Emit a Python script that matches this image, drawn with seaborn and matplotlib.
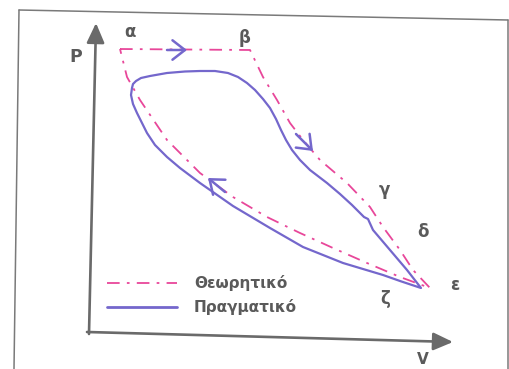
import numpy as np
import pandas as pd
import matplotlib
matplotlib.use("Agg")
import matplotlib.pyplot as plt
from matplotlib.lines import Line2D
from matplotlib.patches import FancyArrowPatch
import seaborn as sns

# ---- data (arbitrary V / P units) ----
theory_V = [32, 162, 175, 189, 202, 215, 232, 259, 282, 295, 312, 325, 342,
            312, 279, 245, 212, 179, 145, 112, 79, 52, 39, 32]
theory_P = [288, 287, 260, 237, 214, 197, 177, 154, 130, 110, 87, 67, 49,
            60, 74, 89, 104, 120, 140, 164, 197, 237, 260, 288]

real_V = [44, 45, 48, 53, 62, 79, 97, 112, 127, 140, 150, 159, 167, 175, 182,
          188, 193, 198, 204, 212, 222, 239, 252, 264, 274, 276, 280, 285, 302,
          319, 333,
          312, 295, 255, 215, 182, 145, 112, 92, 79, 67, 59, 54, 49, 45, 43, 44]
real_P = [249, 253, 256, 259, 261, 264, 265.5, 266, 266, 264, 260, 254, 247, 238,
          229, 218, 207, 197, 187, 177, 167, 154, 143, 132, 122, 120, 118, 107, 87,
          67, 49,
          56, 62, 74, 90, 109, 131, 154, 169, 180, 192, 204, 214, 224, 233, 242, 249]

# direction arrows (tail V, tail P, head V, head P)
arrow_tail_V = [79, 208, 137]
arrow_tail_P = [287, 203, 145]
arrow_head_V = [99, 225, 120]
arrow_head_P = [287, 186, 159]

point_labels = ["α", "β", "γ", "δ", "ε", "ζ"]
legend_labels = ["Θεωρητικό", "Πραγματικό"]

PINK = "#e8479a"
PURPLE = "#7467cc"
GRAY = "#5a5a5a"
AXGRAY = "#6a6a6a"

sns.set_theme(style="white")
plt.rcParams["font.family"] = ["DejaVu Sans"]

W, H = 510, 369
fig = plt.figure(figsize=(W / 100, H / 100), dpi=100)
fig.patch.set_facecolor("white")


def fp(x, y):
    return (x / W, 1 - y / H)


# axes whose origin is where the P and V axes meet
x0, y0, x1, y1 = 88, 337, 452, 23
ax = fig.add_axes([x0 / W, 1 - y0 / H, (x1 - x0) / W, (y0 - y1) / H])
ax.set_xlim(0, x1 - x0)
ax.set_ylim(0, y0 - y1)
ax.axis("off")
ax.patch.set_alpha(0)

df_t = pd.DataFrame({"V": theory_V, "P": theory_P})
df_r = pd.DataFrame({"V": real_V, "P": real_P})

sns.lineplot(data=df_t, x="V", y="P", sort=False, estimator=None, ax=ax,
             color=PINK, lw=1.3, linestyle=(0, (7, 4, 1.5, 4)))
sns.lineplot(data=df_r, x="V", y="P", sort=False, estimator=None, ax=ax,
             color=PURPLE, lw=1.6)

for tv, tp, hv, hp in zip(arrow_tail_V, arrow_tail_P, arrow_head_V, arrow_head_P):
    ax.annotate("", xy=(hv, hp), xytext=(tv, tp),
                arrowprops=dict(arrowstyle="->,head_length=0.45,head_width=0.35",
                                color=PURPLE, lw=1.8, mutation_scale=20,
                                shrinkA=0, shrinkB=0))

# frame (scanned, slightly tilted)
for (xa, ya), (xb, yb) in [((19, 10), (508, 20)), ((19, 10), (14, 369)),
                           ((508, 20), (508, 369))]:
    fig.add_artist(Line2D([xa / W, xb / W], [1 - ya / H, 1 - yb / H],
                          transform=fig.transFigure, color="#7a7a7a", lw=1.1))

# axis arrows
for (xa, ya), (xb, yb) in [((89, 334), (96, 23)), ((87, 332), (453, 342))]:
    fig.add_artist(FancyArrowPatch(fp(xa, ya), fp(xb, yb), transform=fig.transFigure,
                                   arrowstyle="-|>,head_length=0.6,head_width=0.27",
                                   mutation_scale=20, color=AXGRAY, lw=1.9,
                                   shrinkA=0, shrinkB=0))

fig.text(*fp(76, 57), "P", ha="center", va="center", fontsize=12.5,
         fontweight="bold", color=GRAY)
fig.text(*fp(423, 360), "V", ha="center", va="center", fontsize=11,
         fontweight="bold", color=GRAY)

label_pos = [(130, 32), (245, 38), (384, 190), (423, 232), (455, 285), (385, 299)]
for lab, (lx, ly) in zip(point_labels, label_pos):
    fig.text(*fp(lx, ly), lab, ha="center", va="center", fontsize=12,
             fontweight="bold", color=GRAY)

handles = [Line2D([], [], color=PINK, lw=1.3, linestyle=(0, (7, 4, 1.5, 4))),
           Line2D([], [], color=PURPLE, lw=2.0)]
leg = fig.legend(handles, legend_labels, loc="upper left",
                 bbox_to_anchor=fp(107, 275), bbox_transform=fig.transFigure,
                 frameon=False, fontsize=11, handlelength=4.6, handletextpad=1.1,
                 labelspacing=0.55, borderpad=0, borderaxespad=0)
for t in leg.get_texts():
    t.set_color(GRAY)
    t.set_fontweight("bold")

fig.savefig("out.png", dpi=100)
